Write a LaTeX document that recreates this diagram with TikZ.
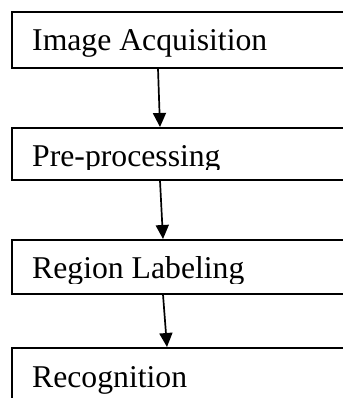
\documentclass[tikz,border=0pt]{standalone}
\usepackage{fontspec}
\setmainfont{Liberation Serif}
\usepackage{tikz}
\usetikzlibrary{arrows.meta}
\tikzset{stage/.style={draw, line width=1.6pt, anchor=north west,
        minimum width=340pt, inner sep=0pt},
    caption/.style={anchor=base west, inner sep=0pt,
        font=\fontsize{31.7}{38}\selectfont},
    flow/.style={-{Triangle[length=14pt,width=13pt]}, line width=1.7pt},
    x=1pt, y=1pt}

\begin{document}
\begin{tikzpicture}
    \useasboundingbox (0,0) rectangle (342,-398);
    \node[stage, minimum height=56pt] (acq) at (11,-11) {};
    \node[stage, minimum height=52pt] (pre) at (11,-127) {};
    \node[stage, minimum height=54pt] (reg) at (11,-239) {};
    \node[stage, minimum height=70pt] (rec) at (11,-347) {};
    \node[caption] (acqtext) at ([shift={(21,-40)}]acq.north west) {Image Acquisition};
    \begin{scope}
        \clip (pre.north west) rectangle ([yshift=-42pt]pre.north east);
        \node[caption] (pretext) at ([shift={(21,-39)}]pre.north west) {Pre-processing};
    \end{scope}
    \begin{scope}
        \clip (reg.north west) rectangle ([yshift=-44pt]reg.north east);
        \node[caption] (regtext) at ([shift={(21,-39)}]reg.north west) {Region Labeling};
    \end{scope}
    \node[caption] (rectext) at ([shift={(21,-40)}]rec.north west) {Recognition};
    \draw[flow] ([xshift=147pt]acq.south west) -- ([xshift=149pt]pre.north west);
    \draw[flow] ([xshift=149pt]pre.south west) -- ([xshift=152pt]reg.north west);
    \draw[flow] ([xshift=152pt]reg.south west) -- ([xshift=156pt]rec.north west);
\end{tikzpicture}
\end{document}
